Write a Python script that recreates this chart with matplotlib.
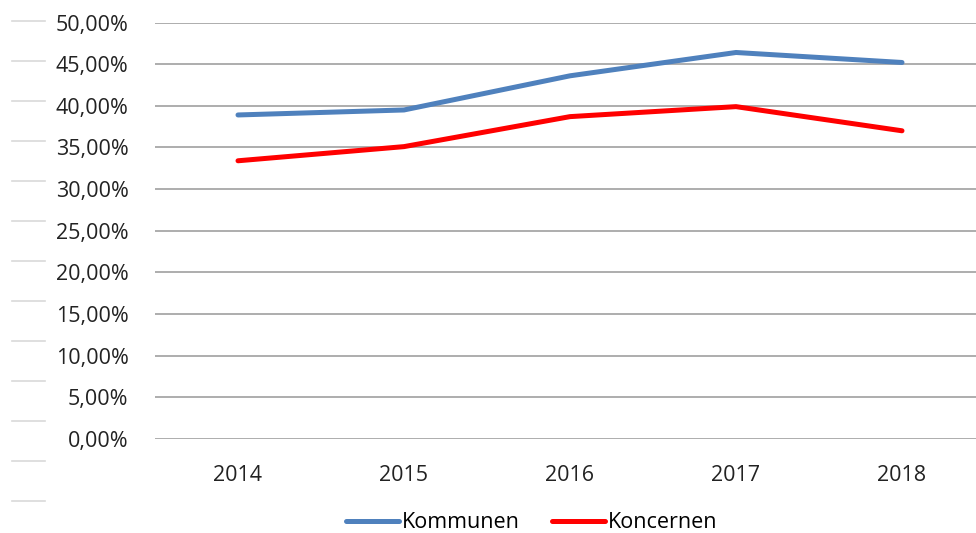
import matplotlib.pyplot as plt
from matplotlib.lines import Line2D
from matplotlib.ticker import FuncFormatter

plt.rcParams['font.family'] = ['Open Sans', 'DejaVu Sans']

years = ['2014', '2015', '2016', '2017', '2018']
kommunen = [38.9, 39.5, 43.6, 46.4, 45.2]
koncernen = [33.4, 35.1, 38.7, 39.9, 37.0]
yticks = [0, 5, 10, 15, 20, 25, 30, 35, 40, 45, 50]

W, H = 976, 533
fig = plt.figure(figsize=(W / 100, H / 100), dpi=100)
ax = fig.add_axes([155 / W, (H - 439) / H, 830 / W, 416.5 / H])

x = range(len(years))
ax.plot(x, kommunen, color='#4F81BD', lw=3.6, label='Kommunen', solid_capstyle='round')
ax.plot(x, koncernen, color='#FF0000', lw=3.6, label='Koncernen', solid_capstyle='round')

ax.set_xlim(-0.5, len(years) - 0.5)
ax.set_ylim(0, 50)
ax.set_yticks(yticks)
ax.yaxis.set_major_formatter(FuncFormatter(lambda v, p: f'{v:.2f}'.replace('.', ',') + '%'))
ax.set_xticks(list(x))
ax.set_xticklabels(years)
ax.grid(axis='y', color='#A0A0A0', lw=1.2)
ax.set_axisbelow(True)
for s in ax.spines.values():
    s.set_visible(False)
ax.tick_params(axis='y', length=0, pad=19, labelsize=15.5, labelcolor='#222222')
ax.tick_params(axis='x', length=0, pad=19, labelsize=15.5, labelcolor='#222222')

# cell border remnants on the left
for k in range(13):
    yy = 1 - (21 + 40 * k) / H
    fig.add_artist(Line2D([12 / W, 45 / W], [yy, yy], color='#D9D9D9', lw=1.2))

fig.legend(loc='center', bbox_to_anchor=(532 / W, 1 - 523 / H), ncol=2, frameon=False,
           fontsize=15.5, handlelength=2.45, handletextpad=0.15, columnspacing=1.5)

fig.savefig('out.png', dpi=100)
